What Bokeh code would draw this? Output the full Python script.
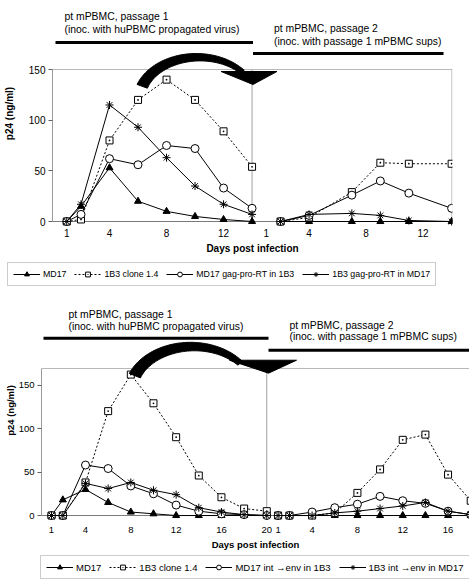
import numpy as np
from bokeh.plotting import figure
from bokeh.models import Range1d, FixedTicker, Legend, LegendItem, Label, AllLabels
from bokeh.embed import file_html
from bokeh.resources import INLINE

FONT = "Liberation Sans"

# ---------------- data: panel a ----------------
A_P1_DAYS = [1, 2, 4, 6, 8, 10, 12, 14]
A_P2_DAYS = [2, 4, 7, 9, 11, 14]
A_LABELS = ["MD17", "1B3 clone 1.4", "MD17 gag-pro-RT in 1B3", "1B3 gag-pro-RT in MD17"]
A_MD17_P1 = [0, 15, 53, 20, 10, 5, 2, 0]
A_MD17_P2 = [0, 0, 0, 0, 0, 0]
A_1B3_P1 = [0, 2, 80, 120, 140, 120, 89, 54]
A_1B3_P2 = [0, 4, 29, 58, 57, 57]
A_GPR_IN_1B3_P1 = [0, 7, 62, 56, 75, 72, 33, 13]
A_GPR_IN_1B3_P2 = [0, 6, 26, 40, 28, 13]
A_GPR_IN_MD17_P1 = [0, 17, 115, 93, 63, 35, 17, 7]
A_GPR_IN_MD17_P2 = [0, 7, 8, 6, 1, 0]
A_TICKS_P1 = [1, 4, 8, 12]
A_TICKS_P2 = [1, 4, 8, 12]
A_P2_START = 14

# ---------------- data: panel b ----------------
B_P1_DAYS = [1, 2, 4, 6, 8, 10, 12, 14, 16, 18, 20]
B_P2_DAYS = [1, 2, 4, 6, 8, 10, 12, 14, 16, 18]
B_LABELS = ["MD17", "1B3 clone 1.4", "MD17 int \u2192env in 1B3", "1B3 int \u2192env in MD17"]
B_MD17_P1 = [0, 18, 30, 15, 4, 2, 0, 0, 0, 0, 0]
B_MD17_P2 = [0, 0, 0, 0, 0, 0, 0, 0, 0, 0]
B_1B3_P1 = [0, 0, 38, 120, 162, 129, 90, 46, 21, 8, 5]
B_1B3_P2 = [0, 0, 0, 3, 26, 53, 87, 93, 47, 17]
B_INT_IN_1B3_P1 = [0, 0, 58, 54, 34, 25, 12, 5, 2, 1, 0]
B_INT_IN_1B3_P2 = [0, 0, 4, 9, 13, 22, 17, 14, 5, 1]
B_INT_IN_MD17_P1 = [0, 0, 37, 31, 38, 29, 24, 9, 4, 1, 0]
B_INT_IN_MD17_P2 = [0, 0, 0, 3, 5, 8, 11, 15, 5, 1]
B_TICKS_P1 = [1, 4, 8, 12, 16, 20]
B_TICKS_P2 = [1, 4, 8, 12, 16]
B_P2_START = 20

Y_TICKS = [0, 50, 100, 150]
PASSAGE_1 = ["pt mPBMC, passage 1", "(inoc. with huPBMC propagated virus)"]
PASSAGE_2 = ["pt mPBMC, passage 2", "(inoc. with passage 1 mPBMC sups)"]

STYLES = [
    dict(marker="triangle", fill_color="black", line_dash="solid", size=7),
    dict(marker="square_dot", fill_color="white", line_dash="2 2", size=7),
    dict(marker="circle", fill_color="white", line_dash="solid", size=8),
    dict(marker="asterisk", fill_color="white", line_dash="solid", size=8),
]

# ---------------- layout (pixels) ----------------
GEOM_A = dict(W=469, H=258, L=51, R=17, FB=226, Z=221, SX=14.29, SY=1.0133, X0=0.0,
              BOX_TOP=150, RIGHT_BORDER=True, TICK_FS="10px", LAB_FS="10px", LEG_FS="8.8px",
              TXT_FS="10.4px", YSTAND=3, YLSTAND=11, XSTAND=2, XLSTAND=3,
              LETTER=(13, 20), T1=(63, 15.7, 29), T2=(273, 28, 41),
              BAR1=(54, 252, 42), BAR2=(252, 443, 53),
              ARC=(195, 100, 63, 47, 160, 40, 11, 5),
              HEAD=((220, 71), (276, 71), (252, 84)),
              LEG_H=42, LEG_LOC=(7, 14))
GEOM_B = dict(W=469, H=252, L=41, R=0, FB=221, Z=216, SX=11.33, SY=0.874, X0=0.117,
              BOX_TOP=169, RIGHT_BORDER=False, TICK_FS="9.5px", LAB_FS="9.5px", LEG_FS="9.5px",
              TXT_FS="10.4px", YSTAND=3, YLSTAND=0, XSTAND=6, XLSTAND=3,
              LETTER=(10, 17), T1=(68, 14, 26), T2=(289, 25, 36),
              BAR1=(43, 268, 38), BAR2=(268, 469, 50),
              ARC=(190, 92, 66, 50, 158, 38, 12, 6),
              HEAD=((229, 60), (296, 60), (268, 73)),
              LEG_H=28, LEG_LOC=(40, 1))


def add_series(p, st, xs, vals):
    lr = p.line(xs, vals, line_color="black", line_width=1, line_dash=st["line_dash"])
    sr = p.scatter(xs, vals, marker=st["marker"], size=st["size"],
                   fill_color=st["fill_color"], line_color="black", line_width=1)
    return lr, sr


def build(G, letter, p1_days, p2_days, p1_series, p2_series, labels, ticks1, ticks2, p2_start):
    fw = G["W"] - G["L"] - G["R"]
    x0 = G["X0"]
    x1 = x0 + fw / G["SX"]
    y0 = (G["Z"] - G["FB"]) / G["SY"]
    y1 = G["Z"] / G["SY"]

    def X(px):
        return x0 + (px - G["L"]) / G["SX"]

    def Y(py):
        return (G["Z"] - py) / G["SY"]

    p = figure(width=G["W"], height=G["H"], x_range=Range1d(x0, x1), y_range=Range1d(y0, y1),
               min_border_left=G["L"], min_border_right=G["R"], min_border_top=0,
               min_border_bottom=G["H"] - G["FB"], output_backend="svg",
               toolbar_location=None, tools="")
    p.outline_line_color = None
    p.grid.grid_line_color = None
    p.background_fill_color = "white"
    p.border_fill_color = "white"

    # plot box
    top = G["BOX_TOP"]
    p.segment(x0=[x0], y0=[top], x1=[x1], y1=[top], line_color="#b8b8b8", line_width=1)
    if G["RIGHT_BORDER"]:
        xr = x1 - 0.6 / G["SX"]
        p.segment(x0=[xr], y0=[0], x1=[xr], y1=[top], line_color="#b8b8b8", line_width=1)
    p.segment(x0=[p2_start], y0=[0], x1=[p2_start], y1=[top], line_color="#a0a0a0", line_width=1)
    p.segment(x0=[x0], y0=[0], x1=[x1], y1=[0], line_color="#7a7a7a", line_width=1)

    # series
    for i, st in enumerate(STYLES):
        add_series(p, st, list(p1_days), p1_series[i])
        add_series(p, st, [d + p2_start for d in p2_days], p2_series[i])

    # axes
    ya = p.yaxis[0]
    ya.ticker = FixedTicker(ticks=Y_TICKS, minor_ticks=[])
    ya.bounds = (0, top)
    ya.axis_line_color = "#9a9a9a"
    ya.major_tick_line_color = "#606060"
    ya.major_tick_out = 4
    ya.major_tick_in = 0
    ya.minor_tick_line_color = None
    ya.major_label_text_font = FONT
    ya.major_label_text_font_size = G["TICK_FS"]
    ya.major_label_text_color = "black"
    ya.major_label_standoff = G["YSTAND"]
    ya.axis_label = "p24 (ng/ml)"
    ya.axis_label_text_font = FONT
    ya.axis_label_text_font_style = "bold"
    ya.axis_label_text_font_size = G["LAB_FS"]
    ya.axis_label_text_color = "black"
    ya.axis_label_standoff = G["YLSTAND"]

    xa = p.xaxis[0]
    xticks = list(ticks1) + [t + p2_start for t in ticks2]
    xa.ticker = FixedTicker(ticks=xticks, minor_ticks=[])
    overrides = {t: str(t) for t in ticks1}
    overrides.update({t + p2_start: str(t) for t in ticks2})
    xa.major_label_overrides = overrides
    xa.major_label_policy = AllLabels()
    xa.axis_line_color = None
    xa.major_tick_line_color = None
    xa.minor_tick_line_color = None
    xa.major_tick_out = 0
    xa.major_tick_in = 0
    xa.major_label_text_font = FONT
    xa.major_label_text_font_size = G["TICK_FS"]
    xa.major_label_text_color = "black"
    xa.major_label_standoff = G["XSTAND"]
    xa.axis_label = "Days post infection"
    xa.axis_label_text_font = FONT
    xa.axis_label_text_font_style = "bold"
    xa.axis_label_text_font_size = G["LAB_FS"]
    xa.axis_label_text_color = "black"
    xa.axis_label_standoff = G["XLSTAND"]

    # passage annotations
    lx, ly = G["LETTER"]
    p.add_layout(Label(x=X(lx), y=Y(ly), text=letter, text_font=FONT, text_font_style="bold",
                       text_font_size="11px", text_baseline="middle", text_align="left"))
    for (tx, ya1, ya2), lines in ((G["T1"], PASSAGE_1), (G["T2"], PASSAGE_2)):
        for yy, txt in zip((ya1, ya2), lines):
            p.add_layout(Label(x=X(tx), y=Y(yy), text=txt, text_font=FONT,
                               text_font_size=G["TXT_FS"], text_baseline="middle",
                               text_align="left", text_color="black"))
    for (a, b, yy) in (G["BAR1"], G["BAR2"]):
        p.segment(x0=[X(a)], y0=[Y(yy)], x1=[X(b)], y1=[Y(yy)], line_color="black", line_width=3)

    # curved arrow
    cx, cy, rx, ry, t0, t1, w0, w1 = G["ARC"]
    t = np.radians(np.linspace(t0, t1, 60))
    w = np.linspace(w0, w1, 60)
    ox = cx + rx * np.cos(t)
    oy = cy - ry * np.sin(t)
    ix = cx + (rx - w) * np.cos(t)
    iy = cy - (ry - w) * np.sin(t)
    px = np.concatenate([ox, ix[::-1]])
    py = np.concatenate([oy, iy[::-1]])
    p.patch([X(v) for v in px], [Y(v) for v in py], fill_color="black", line_color="black")
    hx = [X(h[0]) for h in G["HEAD"]]
    hy = [Y(h[1]) for h in G["HEAD"]]
    p.patch(hx, hy, fill_color="black", line_color="black")

    # legend strip (its own small figure; icons use the same styles, data kept off-view)
    lg = figure(width=G["W"], height=G["LEG_H"], x_range=Range1d(0, 1), y_range=Range1d(0, 1),
                min_border=0, min_border_left=0, min_border_right=0, min_border_top=0,
                min_border_bottom=0, x_axis_type=None, y_axis_type=None,
                output_backend="svg", toolbar_location=None, tools="")
    lg.outline_line_color = None
    lg.grid.grid_line_color = None
    items = []
    for i, st in enumerate(STYLES):
        lr, sr = add_series(lg, st, [-5, -4], [-5, -5])
        items.append(LegendItem(label=labels[i], renderers=[lr, sr]))
    leg = Legend(items=items, orientation="horizontal", location=G["LEG_LOC"],
                 label_text_font=FONT, label_text_font_size=G["LEG_FS"], label_text_color="black",
                 glyph_width=27, glyph_height=12, label_height=12, label_standoff=3,
                 spacing=8, padding=5, margin=0,
                 border_line_color="#9a9a9a", border_line_width=1,
                 background_fill_color="white", background_fill_alpha=1.0)
    lg.add_layout(leg)
    return p, lg


pa, la = build(GEOM_A, "a", A_P1_DAYS, A_P2_DAYS,
               [A_MD17_P1, A_1B3_P1, A_GPR_IN_1B3_P1, A_GPR_IN_MD17_P1],
               [A_MD17_P2, A_1B3_P2, A_GPR_IN_1B3_P2, A_GPR_IN_MD17_P2],
               A_LABELS, A_TICKS_P1, A_TICKS_P2, A_P2_START)
pb, lb = build(GEOM_B, "b", B_P1_DAYS, B_P2_DAYS,
               [B_MD17_P1, B_1B3_P1, B_INT_IN_1B3_P1, B_INT_IN_MD17_P1],
               [B_MD17_P2, B_1B3_P2, B_INT_IN_1B3_P2, B_INT_IN_MD17_P2],
               B_LABELS, B_TICKS_P1, B_TICKS_P2, B_P2_START)

# four independent roots stacked in the page (no cross-plot frame alignment)
open("out.html", "w").write(file_html([pa, la, pb, lb], INLINE))
